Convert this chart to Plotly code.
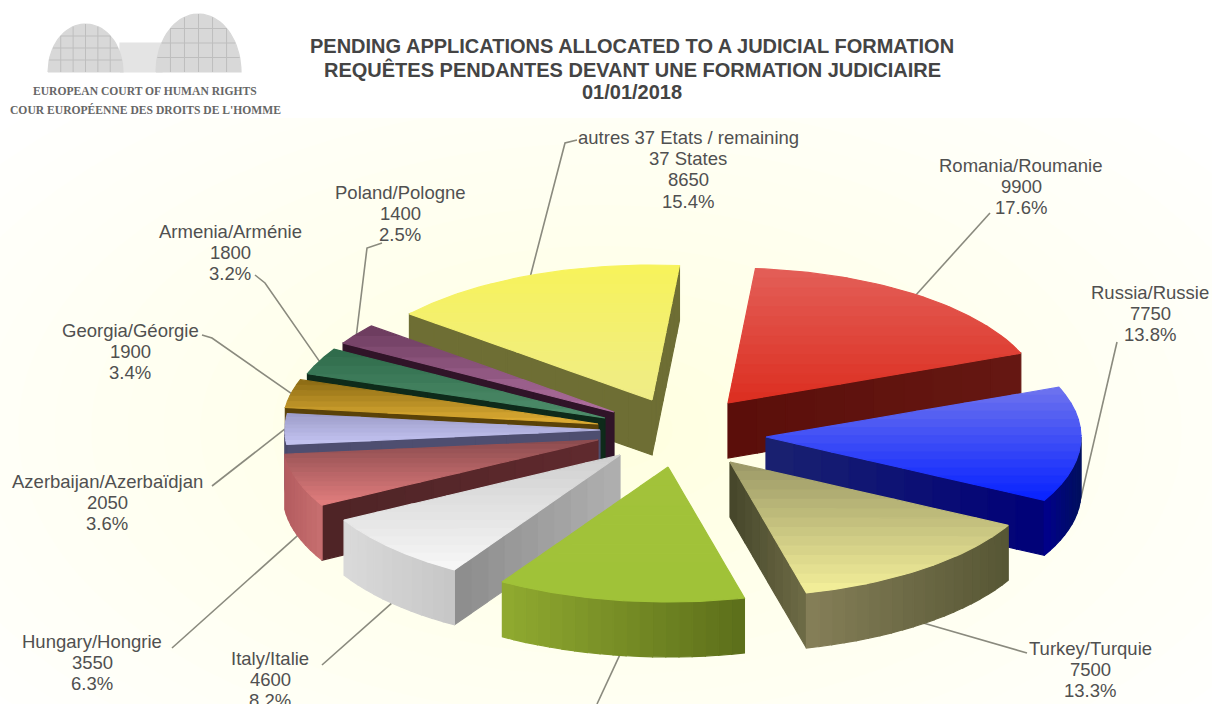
import numpy as np
import plotly.graph_objects as go

# Pending applications per State
categories = ["Romania/Roumanie", "Russia/Russie", "Turkey/Turquie", "Ukraine/Ukraine",
              "Italy/Italie", "Hungary/Hongrie", "Azerbaijan/Azerbaïdjan", "Georgia/Géorgie",
              "Armenia/Arménie", "Poland/Pologne", "autres 37 Etats / remaining<br>37 States"]
values = [9900, 7750, 7500, 7150, 4600, 3550, 2050, 1900, 1800, 1400, 8650]
percents = ["17.6%", "13.8%", "13.3%", "12.7%", "8.2%", "6.3%", "3.6%", "3.4%", "3.2%", "2.5%", "15.4%"]

title_lines = ["PENDING APPLICATIONS ALLOCATED TO A JUDICIAL FORMATION",
               "REQUÊTES PENDANTES DEVANT UNE FORMATION JUDICIAIRE",
               "01/01/2018"]
court_lines = ["EUROPEAN COURT OF HUMAN RIGHTS", "COUR EUROPÉENNE DES DROITS DE L'HOMME"]

# Projection of the tilted pie
RADIUS_X, RADIUS_Y, DEPTH, START_ANGLE = 315.0, 135.0, 55.0, 5.0

# Exploded position of each wedge's tip
TIPS = [(728, 403), (766, 437), (730, 462), (668, 467), (620, 455), (598, 440),
        (600, 430), (598, 424), (605, 418), (614, 412), (652, 400)]

# (top face start, top face end, cut wall start, cut wall end, rim wall left, rim wall right)
STYLES = [
    ("#E35F58", "#DC2E20", "#5A0E0A", "#661812", "#661812", "#661812"),
    ("#6F74EE", "#0722FF", "#1A2270", "#000078", "#00008C", "#00105C"),
    ("#9A9766", "#F4F09A", "#45452A", "#6E6C46", "#857F58", "#565634"),
    ("#A2C23A", "#A0C238", "#8CA62E", "#8CA62E", "#90AA30", "#5C6E1A"),
    ("#CFCFCF", "#F7F7F7", "#B0B0B0", "#8C8C8C", "#DADADA", "#C6C6C6"),
    ("#8A4B4E", "#E37E7E", "#602A2E", "#4E2426", "#B45C60", "#C87070"),
    ("#9C9CC8", "#C4C4F2", "#4E4E70", "#4E4E70", "#4A4A6C", "#4A4A6C"),
    ("#8A6A14", "#E0AE34", "#5A4208", "#5A4208", "#5A4208", "#5A4208"),
    ("#2E6A4A", "#4F8F6C", "#0E2A1A", "#0E2A1A", "#0E2A1A", "#0E2A1A"),
    ("#6A3A5C", "#B070A0", "#301428", "#301428", "#301428", "#301428"),
    ("#F7F35A", "#EFEC88", "#6E6E34", "#6E6E34", "#6E6E34", "#6E6E34"),
]

# Back-to-front painting order
DRAW_ORDER = [10, 0, 9, 8, 7, 6, 5, 4, 1, 2, 3]

# (label centre x, first line y, bend points of the leader, from the label side to the pie)
LABELS = [
    (1021, 165, [(990, 213)]),
    (1150, 292, [(1117, 342)]),
    (1090, 648, [(1027, 653)]),
    (None, None, [(597, 704)]),
    (270, 658, [(322, 665)]),
    (92, 641, [(172, 648)]),
    (107, 481, [(212, 486)]),
    (130, 330, [(202, 335), (212, 338)]),
    (230, 231, [(255, 275), (265, 283)]),
    (400, 192, [(382, 243), (367, 248)]),
    (688, 137, [(577, 140), (565, 143)]),
]

INK = "#505050"
LEADER = "#8A8A7E"
GLOW_CENTRE = (600, 430)


def rgb(hex_colour):
    return np.array([int(hex_colour[i:i + 2], 16) for i in (1, 3, 5)], float)


def mix(c0, c1, t):
    a = rgb(c0) * (1 - t) + rgb(c1) * t
    return "rgb({:.0f},{:.0f},{:.0f})".format(*a)


def clip(poly, axis, limit, keep_above):
    """Clip a polygon against one horizontal or vertical line."""
    out = []
    n = len(poly)
    for i in range(n):
        p, q = poly[i], poly[(i + 1) % n]
        pin = p[axis] >= limit if keep_above else p[axis] <= limit
        qin = q[axis] >= limit if keep_above else q[axis] <= limit
        if pin:
            out.append(p)
        if pin != qin:
            t = (limit - p[axis]) / (q[axis] - p[axis])
            out.append((p[0] + t * (q[0] - p[0]), p[1] + t * (q[1] - p[1])))
    return out


fig = go.Figure()


def fill(poly, colour, edge=1.2):
    xs = [p[0] for p in poly] + [poly[0][0]]
    ys = [p[1] for p in poly] + [poly[0][1]]
    fig.add_trace(go.Scatter(x=xs, y=ys, mode="lines", fill="toself", fillcolor=colour,
                             line=dict(color=colour, width=edge), hoverinfo="skip", showlegend=False))


def gradient_fill(poly, c0, c1, axis=1, steps=14):
    lo = min(p[axis] for p in poly)
    hi = max(p[axis] for p in poly)
    for k in range(steps):
        a = lo + (hi - lo) * k / steps
        b = lo + (hi - lo) * (k + 1) / steps
        piece = clip(clip(poly, axis, a, True), axis, b, False)
        if len(piece) >= 3:
            fill(piece, mix(c0, c1, (k + 0.5) / steps))


def rim(tip, angle_deg):
    t = np.radians(angle_deg)
    return (tip[0] + RADIUS_X * np.sin(t), tip[1] - RADIUS_Y * np.cos(t))


# Soft yellow glow behind the pie
LEVELS = 22
for i in range(LEVELS):
    s = 1 - i / LEVELS
    th = np.linspace(0, 2 * np.pi, 90)
    ring = [(GLOW_CENTRE[0] + 800 * s * np.cos(a), GLOW_CENTRE[1] + 450 * s * np.sin(a)) for a in th[:-1]]
    ring = clip(ring, 1, 118, True)
    if len(ring) >= 3:
        fill(ring, mix("#FFFFFF", "#FFFFE0", (i + 1) / LEVELS), edge=0)

# Court emblem: two domes and the block joining them
DOMES = [(85.5, 72, 37.5, 48), (198.5, 72, 42.5, 58)]
BUILDING = "#D8D8D8"
LINES = "#BEBEBE"
fill([(120, 72), (120, 43), (162, 43), (162, 72)], "#E4E4E4")
for cx, by, rx, ry in DOMES:
    th = np.linspace(np.pi, 0, 40)
    fill([(cx + rx * np.cos(a), by - ry * np.sin(a)) for a in th], BUILDING)
    for f in (-0.66, -0.33, 0, 0.33, 0.66):
        top = ry * np.sqrt(1 - f * f)
        fig.add_trace(go.Scatter(x=[cx + f * rx, cx + f * rx], y=[by, by - top], mode="lines",
                                 line=dict(color=LINES, width=1), hoverinfo="skip", showlegend=False))
    for f in (0.25, 0.5, 0.75):
        half = rx * np.sqrt(1 - f * f)
        fig.add_trace(go.Scatter(x=[cx - half, cx + half], y=[by - f * ry, by - f * ry], mode="lines",
                                 line=dict(color=LINES, width=1), hoverinfo="skip", showlegend=False))

# Wedge angles, clockwise from the top
total = sum(values)
spans = []
start = START_ANGLE
for v in values:
    end = start + 360.0 * v / total
    spans.append((start, end))
    start = end

# Leader lines run from the middle of each wedge's rim out to its label
for i, (cx, ly, bends) in enumerate(LABELS):
    a, b = spans[i]
    mid = (a + b) / 2
    p = rim(TIPS[i], mid)
    if 90 < mid < 270:
        p = (p[0], p[1] + DEPTH)
    pts = bends + [p]
    fig.add_trace(go.Scatter(x=[q[0] for q in pts], y=[q[1] for q in pts], mode="lines",
                             line=dict(color=LEADER, width=1.6), hoverinfo="skip", showlegend=False))

# The exploded wedges
for i in DRAW_ORDER:
    a, b = spans[i]
    tip = TIPS[i]
    top0, top1, cut0, cut1, wall0, wall1 = STYLES[i]

    def down(p):
        return (p[0], p[1] + DEPTH)

    # Cut faces that turn towards the viewer
    for angle, visible in ((a, np.sin(np.radians(a)) < 0), (b, np.sin(np.radians(b)) > 0)):
        if visible:
            r = rim(tip, angle)
            steps = 10
            for k in range(steps):
                p0 = (tip[0] + (r[0] - tip[0]) * k / steps, tip[1] + (r[1] - tip[1]) * k / steps)
                p1 = (tip[0] + (r[0] - tip[0]) * (k + 1) / steps, tip[1] + (r[1] - tip[1]) * (k + 1) / steps)
                fill([p0, p1, down(p1), down(p0)], mix(cut0, cut1, (k + 0.5) / steps))

    # Curved outer wall on the front half
    lo, hi = max(a, 90.0), min(b, 270.0)
    if hi > lo:
        angles = np.linspace(lo, hi, max(2, int((hi - lo) / 2.5) + 2))
        xs = [rim(tip, t)[0] for t in angles]
        x_lo, x_hi = min(xs), max(xs)
        for t0, t1 in zip(angles[:-1], angles[1:]):
            p0, p1 = rim(tip, t0), rim(tip, t1)
            f = ((p0[0] + p1[0]) / 2 - x_lo) / max(x_hi - x_lo, 1e-6)
            fill([p0, p1, down(p1), down(p0)], mix(wall0, wall1, f))

    # Top face
    face = [tuple(tip)] + [rim(tip, t) for t in np.linspace(a, b, 40)]
    gradient_fill(face, top0, top1, steps=14 if (b - a) > 15 else 8)

annotations = []
# Title block
for text, y in zip(title_lines, (46, 69, 92)):
    annotations.append(dict(x=632, y=y, text="<b>" + text + "</b>", showarrow=False, xanchor="center",
                            yanchor="middle", font=dict(family="Liberation Sans", size=20, color="#444444")))
# Court name below the emblem
for text, y in zip(court_lines, (91, 110)):
    annotations.append(dict(x=145, y=y, text="<b>" + text + "</b>", showarrow=False, xanchor="center",
                            yanchor="middle", font=dict(family="Liberation Serif", size=11.6, color="#666666")))

# Wedge labels: name, count, share
for i, (cx, ly, bends) in enumerate(LABELS):
    if cx is None:
        continue
    rows = categories[i].split("<br>") + [str(values[i]), percents[i]]
    for r, row in enumerate(rows):
        annotations.append(dict(x=cx, y=ly + r * 21.4, text=row, showarrow=False, xanchor="center",
                                yanchor="middle", font=dict(family="Liberation Sans", size=18.5, color=INK)))

fig.update_layout(
    width=1212, height=704,
    margin=dict(l=0, r=0, t=0, b=0),
    paper_bgcolor="#FFFFFF", plot_bgcolor="#FFFFFF",
    showlegend=False,
    xaxis=dict(range=[0, 1212], visible=False, fixedrange=True),
    yaxis=dict(range=[704, 0], visible=False, fixedrange=True),
    annotations=annotations,
)

fig.write_html("out.html", config=dict(displayModeBar=False))
